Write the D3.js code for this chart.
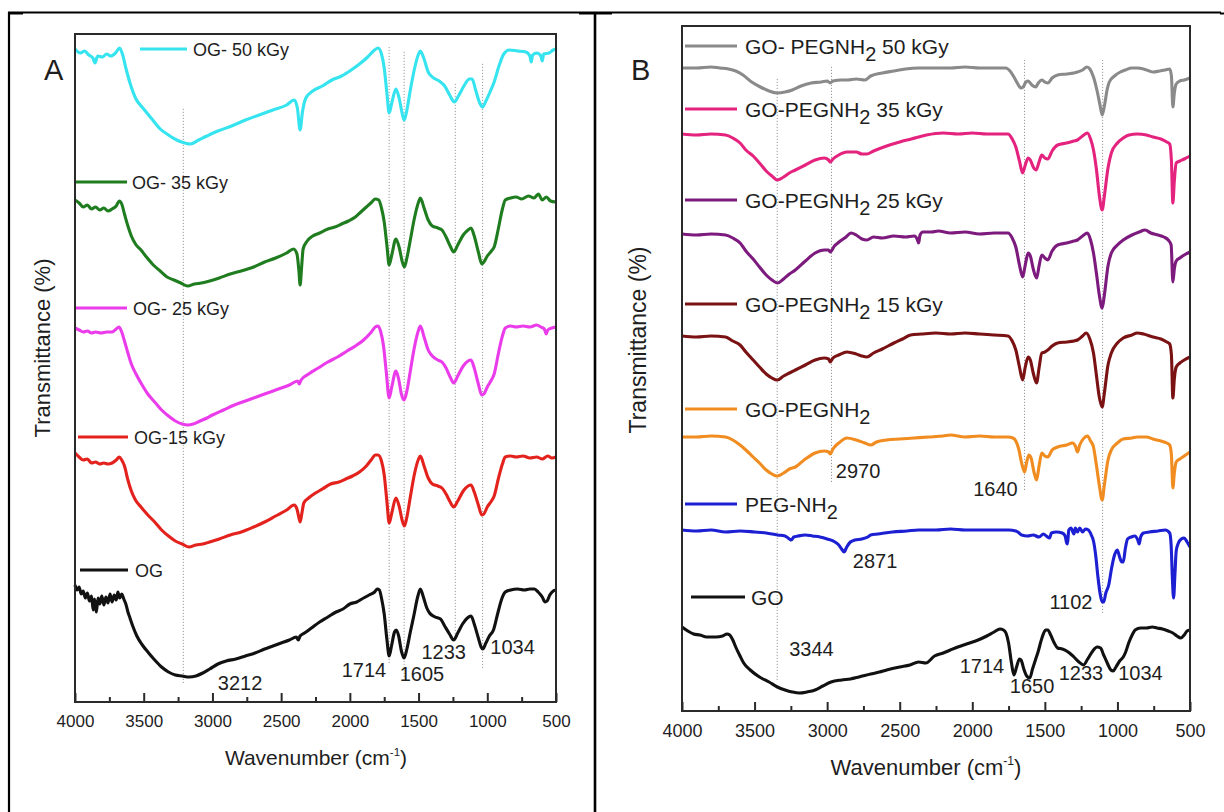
<!DOCTYPE html>
<html>
<head>
<meta charset="utf-8">
<script src="https://cdn.jsdelivr.net/npm/d3@7"></script>
<style>
  body { margin: 0; background: #fff; }
  text { font-family: "Liberation Sans", Arial, sans-serif; fill: #1e1e1e; }
</style>
</head>
<body>
<script>
// ---- panel A : OG irradiated, [wavenumber, transmittance (a.u.)]
var og50 = [[4000,65.3],[3960,64.9],[3930,65.1],[3900,64.7],[3870,64.4],[3855,63.9],[3835,64.6],[3800,64.5],[3770,64.8],[3740,64.6],[3705,64.9],[3675,65.4],[3655,64.8],[3630,63.4],[3600,61.9],[3560,60.4],[3500,59.3],[3440,58.3],[3380,57.3],[3320,56.7],[3260,56.2],[3200,55.9],[3160,55.8],[3100,56.2],[3040,56.6],[2960,57.1],[2860,57.6],[2760,58.2],[2660,58.7],[2560,59.2],[2460,59.7],[2405,60.2],[2382,59.4],[2362,57.2],[2345,59.0],[2320,60.4],[2270,61.1],[2200,61.6],[2130,62.2],[2060,62.6],[1990,63.2],[1930,63.8],[1870,64.5],[1820,65.2],[1795,65.4],[1770,64.8],[1750,63.4],[1730,60.8],[1714,58.9],[1695,59.9],[1665,61.3],[1640,60.3],[1620,58.9],[1605,58.2],[1585,59.2],[1560,61.2],[1530,63.3],[1500,64.8],[1487,65.1],[1460,64.3],[1430,63.0],[1400,62.5],[1350,62.1],[1310,61.6],[1270,60.6],[1240,60.0],[1210,60.6],[1170,61.6],[1130,62.3],[1110,62.3],[1085,61.2],[1055,59.9],[1034,59.5],[1010,60.1],[980,61.0],[950,62.0],[915,63.6],[880,64.8],[840,65.2],[780,65.1],[720,65.0],[690,64.6],[680,64.0],[670,64.7],[640,64.9],[610,64.6],[600,64.1],[590,64.8],[550,64.9],[520,65.2],[500,65.3]];
var og35 = [[4000,50.2],[3970,49.9],[3940,49.5],[3910,49.7],[3880,49.3],[3850,49.5],[3820,49.2],[3790,49.4],[3760,49.1],[3730,49.3],[3700,49.6],[3678,50.1],[3660,49.8],[3640,48.8],[3615,47.6],[3590,46.6],[3560,45.8],[3520,45.2],[3480,44.5],[3430,43.7],[3380,43.1],[3330,42.5],[3280,42.2],[3230,41.9],[3180,41.6],[3130,41.8],[3080,41.9],[3020,42.1],[2950,42.4],[2870,42.8],[2790,43.1],[2700,43.5],[2620,44.0],[2540,44.4],[2460,44.9],[2410,45.3],[2385,44.8],[2370,43.0],[2362,41.7],[2352,43.3],[2340,45.3],[2310,46.1],[2270,46.6],[2220,46.9],[2160,47.3],[2110,47.5],[2060,47.8],[2010,48.1],[1960,48.5],[1920,49.0],[1880,49.5],[1840,50.0],[1815,50.3],[1790,50.2],[1770,49.4],[1750,48.0],[1730,45.6],[1714,43.7],[1695,44.7],[1665,46.3],[1640,45.4],[1620,44.1],[1603,43.5],[1585,44.4],[1560,46.2],[1530,48.4],[1500,50.0],[1487,50.4],[1460,49.4],[1430,48.2],[1400,47.6],[1360,47.4],[1330,47.2],[1300,46.5],[1270,45.6],[1245,45.0],[1215,45.7],[1175,46.7],[1140,47.2],[1118,47.4],[1095,46.6],[1065,45.0],[1040,43.8],[1025,44.0],[1000,44.6],[970,45.1],[950,45.5],[920,47.3],[890,49.3],[869,50.2],[830,50.4],[790,50.5],[750,50.3],[700,50.6],[660,50.4],[628,50.8],[600,50.2],[570,50.5],[540,50.1],[500,50.0]];
var og25 = [[4000,37.4],[3970,37.2],[3940,37.0],[3910,37.1],[3880,36.9],[3850,37.0],[3810,36.9],[3770,37.0],[3730,37.0],[3700,37.3],[3680,37.5],[3660,37.0],[3640,36.1],[3615,34.9],[3590,33.8],[3560,32.9],[3520,31.9],[3470,30.8],[3420,30.0],[3370,29.2],[3320,28.6],[3270,28.1],[3220,27.8],[3180,27.7],[3140,27.8],[3090,28.1],[3040,28.4],[3000,28.7],[2920,29.2],[2840,29.7],[2760,30.1],[2680,30.5],[2600,30.9],[2520,31.3],[2440,31.7],[2380,32.1],[2368,31.8],[2355,32.2],[2300,32.8],[2230,33.4],[2160,34.0],[2090,34.5],[2020,35.1],[1960,35.6],[1900,36.2],[1850,36.9],[1815,37.5],[1795,37.6],[1775,37.0],[1755,35.6],[1735,33.0],[1714,30.4],[1695,31.5],[1665,33.1],[1645,32.3],[1625,30.8],[1605,30.2],[1585,31.1],[1560,33.1],[1530,35.5],[1500,37.2],[1487,37.6],[1460,36.5],[1430,35.2],[1400,34.6],[1360,34.2],[1330,34.0],[1300,33.4],[1270,32.5],[1245,31.9],[1215,32.6],[1175,33.6],[1140,34.1],[1118,34.2],[1095,33.4],[1065,31.8],[1040,30.7],[1025,30.8],[1000,31.5],[970,32.2],[950,32.8],[920,34.8],[890,36.6],[869,37.4],[830,37.6],[790,37.5],[740,37.6],[690,37.5],[640,37.7],[610,37.5],[585,37.3],[571,36.8],[560,37.2],[530,37.4],[500,37.5]];
var og15 = [[4000,24.9],[3970,24.5],[3940,24.2],[3910,24.3],[3880,23.9],[3850,24.0],[3820,23.8],[3790,23.9],[3760,23.8],[3730,23.9],[3700,24.2],[3678,24.5],[3660,24.2],[3640,23.6],[3615,22.2],[3590,21.1],[3560,20.2],[3520,19.5],[3470,18.7],[3420,18.0],[3370,17.2],[3320,16.6],[3270,16.1],[3220,15.8],[3170,15.5],[3120,15.7],[3070,15.8],[3020,16.0],[2950,16.3],[2870,16.7],[2790,17.0],[2700,17.5],[2620,18.0],[2540,18.6],[2460,19.2],[2405,19.7],[2385,19.3],[2370,18.4],[2362,18.0],[2350,18.8],[2335,19.9],[2300,20.4],[2250,20.9],[2200,21.3],[2140,21.8],[2080,22.0],[2030,22.3],[1980,22.6],[1930,23.0],[1880,23.6],[1840,24.3],[1815,24.7],[1795,24.7],[1770,24.1],[1750,22.7],[1730,20.0],[1714,17.9],[1695,18.9],[1665,20.4],[1640,19.5],[1620,18.2],[1603,17.6],[1585,18.5],[1560,20.5],[1530,22.8],[1500,24.3],[1487,24.6],[1460,23.6],[1430,22.4],[1400,21.8],[1360,21.6],[1330,21.4],[1300,20.8],[1270,20.0],[1245,19.5],[1215,20.1],[1175,21.1],[1140,21.6],[1118,21.7],[1095,21.0],[1065,19.7],[1040,18.7],[1025,18.8],[1000,19.5],[970,20.1],[950,20.6],[920,22.3],[890,23.8],[869,24.5],[830,24.6],[790,24.5],[740,24.6],[690,24.4],[640,24.5],[600,24.3],[560,24.6],[530,24.4],[500,24.5]];
var og0 = [[4000,11.7],[3985,11.2],[3970,11.5],[3955,10.8],[3940,11.1],[3925,10.4],[3910,10.9],[3895,10.1],[3880,10.6],[3868,9.2],[3858,10.3],[3845,9.0],[3832,10.4],[3820,9.8],[3805,10.6],[3790,9.7],[3775,10.5],[3760,9.9],[3745,10.8],[3730,10.0],[3715,10.7],[3700,10.2],[3688,11.0],[3675,10.4],[3660,10.8],[3645,10.3],[3630,9.8],[3615,9.0],[3600,8.4],[3580,7.6],[3550,6.6],[3510,5.7],[3470,5.0],[3420,4.2],[3370,3.5],[3320,3.0],[3270,2.7],[3220,2.6],[3170,2.5],[3120,2.6],[3070,2.9],[3020,3.3],[2960,3.8],[2900,4.1],[2830,4.3],[2760,4.6],[2690,4.9],[2620,5.3],[2560,5.6],[2500,5.9],[2440,6.2],[2390,6.5],[2375,6.2],[2362,6.6],[2330,6.9],[2280,7.4],[2220,8.0],[2160,8.5],[2100,9.0],[2050,9.3],[2000,9.8],[1950,10.0],[1900,10.4],[1860,10.7],[1820,11.0],[1800,11.3],[1785,11.2],[1770,10.4],[1750,8.8],[1730,6.2],[1714,4.6],[1697,5.6],[1675,7.0],[1662,7.2],[1645,6.6],[1625,5.1],[1605,4.4],[1585,5.3],[1560,7.0],[1535,8.6],[1505,10.6],[1487,11.3],[1465,10.5],[1440,9.4],[1420,8.9],[1380,8.5],[1340,8.3],[1310,7.6],[1275,6.8],[1245,6.2],[1215,6.9],[1180,7.8],[1145,8.4],[1118,8.6],[1095,7.8],[1065,6.4],[1045,5.5],[1033,5.3],[1010,5.9],[985,6.6],[955,7.2],[925,8.8],[895,10.3],[869,11.0],[830,11.2],[780,11.3],[730,11.2],[690,11.3],[657,11.3],[630,11.0],[600,10.5],[580,10.0],[565,10.1],[545,10.7],[520,11.1],[500,11.2]];

// ---- panel B : GO / PEG-NH2
var peg50 = [[4000,64.3],[3900,64.3],[3800,64.4],[3740,64.3],[3680,64.2],[3630,64.0],[3580,63.6],[3520,62.9],[3460,62.4],[3400,62.0],[3343,61.8],[3290,61.9],[3240,62.1],[3180,62.5],[3110,62.8],[3040,62.9],[3000,63.0],[2979,62.8],[2960,63.0],[2900,63.1],[2860,63.1],[2800,63.2],[2740,63.1],[2700,63.5],[2620,63.8],[2540,64.0],[2460,64.2],[2370,64.3],[2250,64.3],[2150,64.3],[2050,64.4],[1950,64.3],[1850,64.3],[1770,64.3],[1740,64.0],[1713,63.4],[1690,62.8],[1665,62.3],[1650,62.4],[1630,62.9],[1615,63.0],[1590,62.6],[1563,62.4],[1545,62.8],[1521,63.1],[1500,62.9],[1480,62.8],[1450,63.3],[1412,63.6],[1350,63.7],[1300,63.8],[1275,63.9],[1240,64.1],[1210,64.4],[1190,64.2],[1165,63.4],[1140,62.0],[1120,60.6],[1105,59.6],[1090,60.5],[1070,62.2],[1056,62.9],[1020,63.5],[980,63.9],[946,64.1],[900,64.3],[864,64.3],[820,64.2],[780,64.0],[755,63.9],[710,64.0],[670,64.1],[640,64.2],[628,63.5],[618,60.4],[608,61.8],[595,62.7],[570,63.0],[540,63.1],[500,63.3]];
var peg35 = [[4000,57.7],[3900,57.6],[3800,57.7],[3700,57.6],[3650,57.3],[3600,56.8],[3560,56.1],[3510,55.5],[3466,54.8],[3420,54.0],[3380,53.5],[3343,53.1],[3300,53.4],[3260,53.8],[3219,54.1],[3150,54.6],[3083,55.1],[3020,55.3],[2990,55.1],[2979,54.9],[2960,55.2],[2920,55.6],[2863,55.9],[2800,55.9],[2760,55.7],[2727,55.7],[2680,56.0],[2590,56.5],[2500,56.9],[2420,57.2],[2316,57.6],[2200,57.8],[2097,57.7],[2000,57.8],[1900,57.7],[1800,57.7],[1754,57.7],[1725,57.2],[1700,56.4],[1675,55.0],[1653,53.8],[1635,54.6],[1615,55.3],[1600,55.1],[1580,54.4],[1560,54.1],[1540,54.9],[1521,55.6],[1500,55.3],[1480,55.2],[1450,56.0],[1412,56.6],[1350,56.8],[1300,57.0],[1275,57.1],[1240,57.5],[1207,57.8],[1185,57.2],[1165,56.1],[1145,54.2],[1125,51.6],[1105,50.1],[1090,51.5],[1065,54.3],[1042,55.8],[1000,56.8],[960,57.3],[920,57.6],[864,57.7],[800,57.6],[755,57.4],[700,57.2],[660,56.9],[640,56.7],[628,55.0],[618,50.8],[608,53.0],[595,54.8],[570,55.0],[540,55.2],[500,55.5]];
var peg25 = [[4000,47.7],[3900,47.6],[3800,47.7],[3700,47.6],[3650,47.3],[3600,46.8],[3560,46.0],[3510,45.2],[3466,44.4],[3420,43.6],[3380,43.1],[3343,42.8],[3300,43.2],[3260,43.7],[3219,44.1],[3150,45.0],[3083,45.8],[3020,46.1],[2990,46.1],[2979,45.9],[2950,46.5],[2918,46.9],[2870,47.4],[2836,47.8],[2800,47.6],[2760,47.2],[2727,47.1],[2680,47.4],[2620,47.3],[2540,47.5],[2460,47.4],[2400,47.5],[2380,47.2],[2370,46.8],[2360,47.6],[2340,47.9],[2280,47.9],[2234,48.0],[2150,47.8],[2050,47.9],[1950,47.7],[1850,47.8],[1754,47.8],[1725,47.3],[1700,46.4],[1675,44.6],[1653,43.4],[1635,44.6],[1615,45.8],[1600,45.5],[1580,44.2],[1557,43.3],[1540,44.5],[1521,45.6],[1500,45.3],[1480,45.1],[1450,46.0],[1412,46.6],[1350,46.8],[1300,47.0],[1275,47.1],[1240,47.5],[1207,47.8],[1185,47.1],[1165,45.8],[1145,43.8],[1125,41.6],[1105,40.3],[1090,41.6],[1065,44.5],[1042,45.8],[1000,46.6],[960,47.1],[900,47.6],[850,47.9],[810,48.1],[770,47.8],[720,47.6],[680,47.4],[650,47.1],[630,46.6],[618,42.9],[608,44.2],[595,45.0],[570,45.3],[540,45.6],[500,45.9]];
var peg15 = [[4000,37.5],[3900,37.4],[3800,37.5],[3700,37.4],[3650,37.0],[3600,36.6],[3560,35.9],[3510,35.1],[3466,34.4],[3420,33.7],[3380,33.3],[3343,33.1],[3300,33.5],[3260,33.8],[3219,34.1],[3150,34.6],[3083,35.1],[3020,35.3],[2990,35.2],[2979,34.9],[2960,35.3],[2920,35.6],[2863,35.9],[2800,35.7],[2760,35.5],[2727,35.4],[2680,35.8],[2620,36.2],[2540,36.8],[2480,37.2],[2425,37.6],[2350,37.7],[2250,37.8],[2150,37.7],[2050,37.8],[1950,37.7],[1850,37.6],[1754,37.5],[1725,37.0],[1700,36.1],[1675,34.4],[1653,33.1],[1635,34.4],[1615,35.4],[1600,35.1],[1580,33.8],[1557,32.8],[1540,34.3],[1521,35.8],[1500,35.9],[1480,36.1],[1450,36.5],[1412,36.8],[1350,36.9],[1300,37.0],[1275,37.1],[1240,37.5],[1215,37.8],[1190,37.2],[1165,35.8],[1145,33.6],[1125,31.4],[1105,30.4],[1090,31.8],[1065,34.6],[1042,35.8],[1000,36.8],[960,37.3],[900,37.6],[864,37.8],[820,37.7],[755,37.4],[700,37.2],[660,36.9],[640,36.7],[628,35.6],[618,31.3],[608,33.2],[595,34.4],[570,34.8],[540,35.1],[500,35.4]];
var goPeg = [[4000,27.4],[3900,27.4],[3800,27.5],[3700,27.4],[3650,27.1],[3600,26.6],[3560,26.1],[3510,25.4],[3466,24.8],[3420,24.1],[3380,23.7],[3343,23.5],[3300,23.8],[3260,24.2],[3219,24.4],[3150,25.2],[3083,25.8],[3020,26.0],[2990,25.9],[2979,25.7],[2960,26.2],[2920,26.8],[2863,27.3],[2800,27.1],[2740,26.8],[2699,26.6],[2660,26.9],[2590,27.1],[2500,27.2],[2400,27.3],[2300,27.4],[2200,27.5],[2150,27.6],[2050,27.4],[1950,27.5],[1850,27.4],[1754,27.4],[1720,27.3],[1700,27.0],[1680,26.2],[1660,24.8],[1640,23.9],[1625,24.9],[1610,25.6],[1595,25.3],[1575,23.9],[1557,23.1],[1540,24.5],[1521,25.8],[1500,25.5],[1480,25.4],[1450,26.1],[1412,26.4],[1350,26.6],[1310,26.8],[1290,26.5],[1275,25.9],[1260,26.6],[1230,27.3],[1207,27.5],[1185,27.0],[1165,26.4],[1145,24.6],[1125,22.6],[1105,21.1],[1090,22.6],[1065,25.1],[1042,26.1],[1000,26.8],[960,27.2],[900,27.3],[864,27.4],[800,27.4],[755,27.2],[700,27.0],[660,26.8],[640,26.6],[628,25.6],[618,22.3],[608,23.8],[595,24.9],[570,25.2],[540,25.5],[500,25.9]];
var pegNH2 = [[4000,18.1],[3900,18.0],[3800,18.1],[3700,17.9],[3600,18.0],[3500,17.9],[3420,17.8],[3343,17.6],[3290,17.5],[3260,17.2],[3247,17.1],[3230,17.4],[3200,17.5],[3150,17.6],[3100,17.5],[3050,17.4],[3000,17.2],[2946,16.9],[2920,16.6],[2900,16.2],[2883,15.9],[2865,16.4],[2840,16.9],[2809,17.1],[2760,17.2],[2720,17.4],[2700,17.6],[2650,17.7],[2550,17.9],[2450,18.0],[2370,18.1],[2250,18.1],[2150,18.2],[2050,18.1],[1950,18.1],[1850,18.1],[1750,18.1],[1700,18.0],[1686,17.9],[1660,17.6],[1620,17.5],[1580,17.6],[1540,17.4],[1510,17.7],[1490,17.5],[1467,17.3],[1455,17.8],[1420,17.9],[1380,17.8],[1360,17.5],[1350,16.8],[1344,16.7],[1335,18.1],[1320,18.3],[1300,17.7],[1290,18.3],[1275,17.9],[1260,18.3],[1240,17.9],[1220,18.2],[1200,18.1],[1180,17.6],[1165,17.0],[1150,15.6],[1135,13.5],[1120,11.8],[1105,10.9],[1095,10.9],[1080,11.8],[1060,12.6],[1040,14.3],[1020,15.6],[1001,16.1],[985,15.4],[970,14.9],[960,14.9],[945,16.3],[930,17.2],[905,17.4],[880,17.5],[860,17.1],[850,16.7],[840,17.4],[820,17.8],[780,17.9],[720,18.0],[670,18.1],[640,17.8],[630,16.6],[622,13.5],[613,11.3],[604,13.6],[595,16.0],[580,16.8],[560,17.2],[541,17.3],[520,16.9],[500,16.4]];
var go = [[4000,8.4],[3960,8.0],[3920,7.7],[3877,7.6],[3830,7.4],[3767,7.4],[3720,7.5],[3690,7.7],[3671,7.6],[3650,7.1],[3630,6.4],[3600,5.5],[3575,4.8],[3530,4.1],[3466,3.4],[3400,2.9],[3343,2.4],[3290,2.1],[3240,1.9],[3192,1.8],[3140,1.9],[3083,2.1],[3030,2.5],[2973,2.9],[2900,3.1],[2840,3.2],[2781,3.4],[2700,3.7],[2640,3.9],[2590,4.1],[2500,4.4],[2430,4.6],[2370,4.9],[2320,4.8],[2260,5.5],[2200,5.8],[2151,6.1],[2100,6.4],[2040,6.7],[1960,7.1],[1900,7.5],[1850,7.9],[1809,8.2],[1785,8.1],[1768,7.8],[1750,6.8],[1730,4.8],[1713,3.6],[1695,4.4],[1675,5.2],[1664,5.1],[1645,4.2],[1625,3.5],[1604,3.3],[1585,4.2],[1565,5.1],[1549,5.8],[1520,7.3],[1495,8.1],[1480,8.1],[1460,7.6],[1435,6.8],[1412,6.3],[1380,6.2],[1350,6.0],[1330,5.8],[1300,5.4],[1265,4.9],[1234,4.6],[1205,5.2],[1170,6.0],[1140,6.4],[1116,6.3],[1095,5.6],[1070,4.8],[1045,4.1],[1029,4.0],[1010,4.4],[985,5.0],[960,5.4],[946,5.8],[920,6.9],[895,7.7],[878,8.1],[840,8.3],[800,8.3],[760,8.4],[727,8.3],[690,8.2],[650,8.0],[618,7.8],[590,7.5],[563,7.3],[540,7.6],[520,8.0],[500,8.1]];

var labelsA = ['OG- 50 kGy', 'OG- 35 kGy', 'OG- 25 kGy', 'OG-15 kGy', 'OG'];
var labelsB = [['GO- PEGNH', '2', ' 50 kGy'], ['GO-PEGNH', '2', ' 35 kGy'], ['GO-PEGNH', '2', ' 25 kGy'],
               ['GO-PEGNH', '2', ' 15 kGy'], ['GO-PEGNH', '2', ''], ['PEG-NH', '2', ''], ['GO', '', '']];

// dotted guide lines: [wavenumber, from, to]
var dropsA = [[3212, 1.9, 59.4], [1714, 3.9, 65.5], [1605, 2.5, 65.2], [1233, 6.2, 61.9], [1034, 3.4, 64.0]];
var dropsB = [[3344, 3.1, 63.3], [2970, 22.9, 64.6], [1640, 22.1, 65.1], [1102, 9.8, 65.1]];

// peak labels: [text, wavenumber, transmittance]
var notesA = [['3212', 2799, 1.2], ['1714', 1897, 2.5], ['1605', 1475, 2.1], ['1233', 1317, 4.3], ['1034', 816, 4.8]];
var notesB = [['2970', 2787, 23.3], ['1640', 1840, 21.5], ['2871', 2670, 14.3], ['1102', 1320, 10.2], ['3344', 3108, 5.5],
              ['1714', 1933, 3.8], ['1650', 1588, 1.8], ['1233', 1251, 3.1], ['1034', 841, 3.1]];

var wnTicks = [4000, 3500, 3000, 2500, 2000, 1500, 1000, 500];
var wnMinor = [3750, 3250, 2750, 2250, 1750, 1250, 750];

var svg = d3.select('body').append('svg')
  .attr('width', 1224)
  .attr('height', 812);

// table borders
svg.append('line').attr('x1', 8).attr('x2', 1221).attr('y1', 12.5).attr('y2', 12.5).attr('stroke', '#000').attr('stroke-width', 2.2);
svg.append('line').attr('x1', 9).attr('x2', 9).attr('y1', 12).attr('y2', 812).attr('stroke', '#000').attr('stroke-width', 2.2);
svg.append('line').attr('x1', 595).attr('x2', 595).attr('y1', 12).attr('y2', 812).attr('stroke', '#000').attr('stroke-width', 2.6);
svg.append('line').attr('x1', 579).attr('x2', 612).attr('y1', 13.5).attr('y2', 13.5).attr('stroke', '#000').attr('stroke-width', 2);
svg.append('line').attr('x1', 9).attr('x2', 23).attr('y1', 13.5).attr('y2', 13.5).attr('stroke', '#000').attr('stroke-width', 2);
svg.append('line').attr('x1', 1220).attr('x2', 1224).attr('y1', 13.5).attr('y2', 13.5).attr('stroke', '#000').attr('stroke-width', 2);

function drawPanel(p) {
  var x = d3.scaleLinear().domain([4000, 500]).range([p.left, p.right]);
  var y = d3.scaleLinear().domain([0, p.ymax]).range([p.bottom, p.top]);
  var g = svg.append('g');

  g.selectAll('.drop')
    .data(p.drops)
    .enter().append('line')
    .attr('class', 'drop')
    .attr('x1', function(d){ return x(d[0]); })
    .attr('x2', function(d){ return x(d[0]); })
    .attr('y1', function(d){ return y(d[1]); })
    .attr('y2', function(d){ return y(d[2]); })
    .attr('stroke', '#9a9a9a')
    .attr('stroke-width', 1)
    .attr('stroke-dasharray', '1.2,1.8');

  var line = d3.line()
    .x(function(d){ return x(d[0]); })
    .y(function(d){ return y(d[1]); })
    .curve(d3.curveMonotoneX);

  p.series.forEach(function(s){
    g.append('path')
      .datum(s.data)
      .attr('d', line)
      .attr('fill', 'none')
      .attr('stroke', s.color)
      .attr('stroke-width', 3.1)
      .attr('stroke-linejoin', 'round');
  });

  // frame
  g.append('rect')
    .attr('x', p.left).attr('y', p.top)
    .attr('width', p.right - p.left).attr('height', p.bottom - p.top)
    .attr('fill', 'none').attr('stroke', '#2a2a2a').attr('stroke-width', 2);

  // axis, ticks pointing inwards
  var ax = g.append('g')
    .attr('transform', 'translate(0,' + p.bottom + ')')
    .attr('color', '#2a2a2a')
    .call(d3.axisBottom(x).tickValues(wnTicks).tickSize(-9).tickPadding(13).tickFormat(d3.format('d')));
  ax.select('.domain').remove();
  ax.selectAll('line').attr('stroke-width', 2);
  ax.selectAll('text')
    .attr('font-size', p.tickFont)
    .attr('font-family', '"Liberation Sans", Arial, sans-serif')
    .attr('fill', '#1e1e1e');

  var mn = g.append('g')
    .attr('transform', 'translate(0,' + p.bottom + ')')
    .attr('color', '#2a2a2a')
    .call(d3.axisBottom(x).tickValues(wnMinor).tickSize(-5).tickFormat(''));
  mn.select('.domain').remove();
  mn.selectAll('line').attr('stroke-width', 2);

  // legend
  p.series.forEach(function(s, i){
    var L = p.legend[i];
    g.append('line')
      .attr('x1', L[1]).attr('x2', L[2])
      .attr('y1', L[0]).attr('y2', L[0])
      .attr('stroke', s.color).attr('stroke-width', 3.2);
    var t = g.append('text')
      .attr('x', L[3]).attr('y', L[0] + p.legDy)
      .attr('font-size', p.legFont)
      .style('white-space', 'pre');
    var parts = s.label;
    if (typeof parts === 'string') parts = [parts, '', ''];
    t.append('tspan').text(parts[0]);
    if (parts[1]) {
      t.append('tspan').attr('dy', p.legFont * 0.38).attr('font-size', p.legFont * 0.95).text(parts[1]);
      if (parts[2]) t.append('tspan').attr('dy', -p.legFont * 0.38).text(parts[2]);
    }
  });

  // peak labels
  g.selectAll('.note')
    .data(p.notes)
    .enter().append('text')
    .attr('class', 'note')
    .attr('x', function(d){ return x(d[1]); })
    .attr('y', function(d){ return y(d[2]); })
    .attr('text-anchor', 'middle')
    .attr('font-size', 20)
    .text(function(d){ return d[0]; });

  // panel letter
  g.append('text')
    .attr('x', p.letterX).attr('y', 80)
    .attr('font-family', '"Liberation Serif", "Times New Roman", serif')
    .attr('font-size', 29)
    .attr('fill', '#000')
    .text(p.letter);

  // axis titles
  var xt = g.append('text')
    .attr('x', p.xTitle[0]).attr('y', p.xTitle[1])
    .attr('text-anchor', 'middle')
    .attr('font-size', p.titleFont);
  xt.append('tspan').text('Wavenumber (cm');
  xt.append('tspan').attr('dy', -p.titleFont * 0.45).attr('font-size', p.titleFont * 0.55).text('-1');
  xt.append('tspan').attr('dy', p.titleFont * 0.45).text(')');

  g.append('text')
    .attr('transform', 'translate(' + p.yTitle[0] + ',' + p.yTitle[1] + ') rotate(-90)')
    .attr('text-anchor', 'middle')
    .attr('font-size', p.yFont)
    .text('Transmittance (%)');
}

drawPanel({
  left: 75, right: 556, top: 34, bottom: 702, ymax: 66.8,
  series: [
    {data: og50, color: '#35e4ee', label: labelsA[0]},
    {data: og35, color: '#1f7d1f', label: labelsA[1]},
    {data: og25, color: '#ea3ceb', label: labelsA[2]},
    {data: og15, color: '#e3221d', label: labelsA[3]},
    {data: og0, color: '#111111', label: labelsA[4]}
  ],
  legend: [[49, 140, 187, 193], [182, 76, 127, 132], [308, 76, 127, 133], [437, 78, 128, 134], [570, 80, 128, 135]],
  legFont: 18, legDy: 6.5,
  drops: dropsA, notes: notesA,
  tickFont: 17, titleFont: 21, yFont: 22,
  letter: 'A', letterX: 44,
  xTitle: [316, 765], yTitle: [50, 348]
});

drawPanel({
  left: 682, right: 1190, top: 26, bottom: 711, ymax: 68.5,
  series: [
    {data: peg50, color: '#8a8a8a', label: labelsB[0]},
    {data: peg35, color: '#e4237f', label: labelsB[1]},
    {data: peg25, color: '#7c1a7e', label: labelsB[2]},
    {data: peg15, color: '#7a1214', label: labelsB[3]},
    {data: goPeg, color: '#f08c20', label: labelsB[4]},
    {data: pegNH2, color: '#1c1fd2', label: labelsB[5]},
    {data: go, color: '#111111', label: labelsB[6]}
  ],
  legend: [[46, 685, 737, 745], [109, 685, 737, 745], [200, 685, 737, 745], [304, 685, 737, 745],
           [409, 685, 737, 745], [504, 685, 737, 745], [597, 691, 745, 751]],
  legFont: 21, legDy: 7.5,
  drops: dropsB, notes: notesB,
  tickFont: 18, titleFont: 22, yFont: 23,
  letter: 'B', letterX: 631,
  xTitle: [926, 775], yTitle: [646, 340]
});
</script>
</body>
</html>
